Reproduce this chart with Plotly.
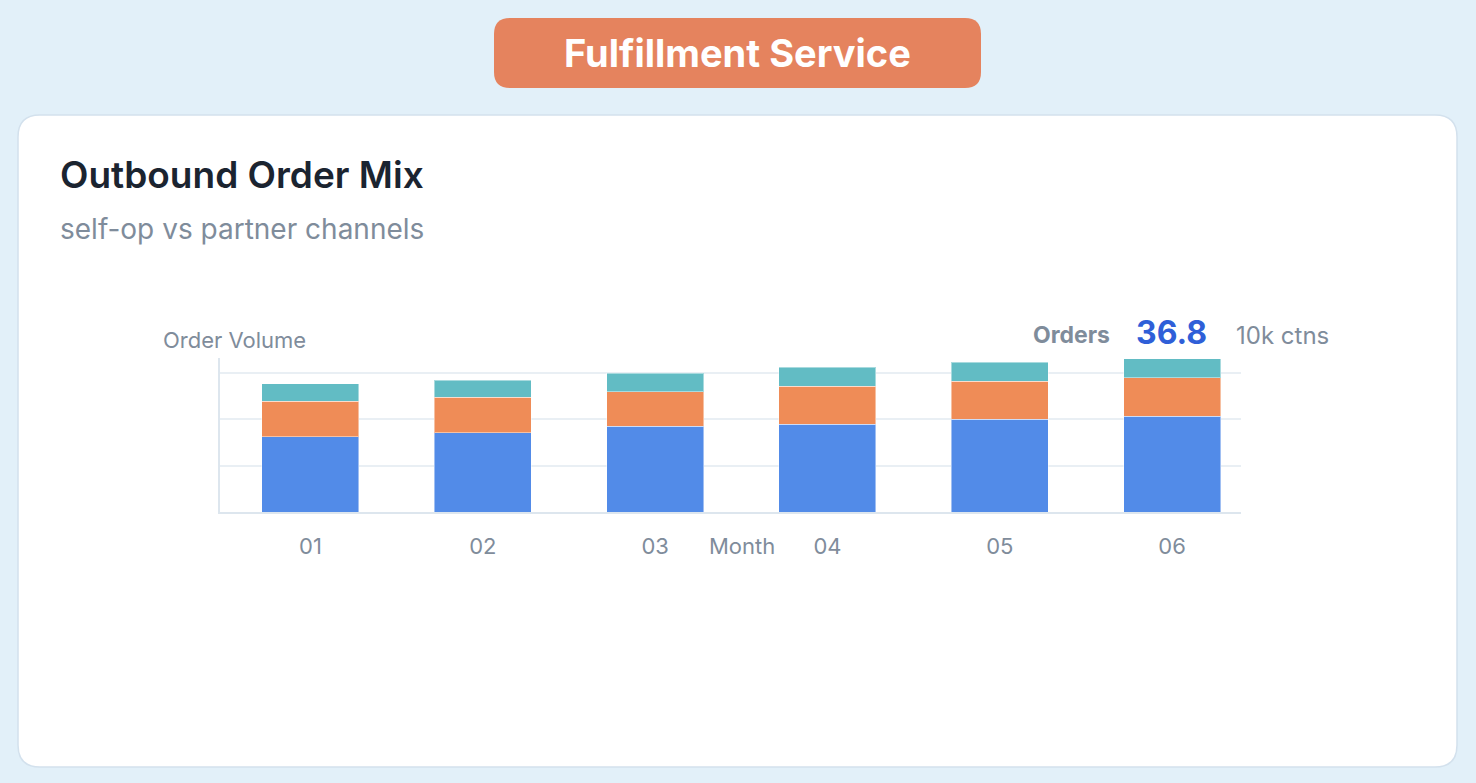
import plotly.graph_objects as go

W, H = 1476, 783

# data (10k ctns)
months = ["01", "02", "03", "04", "05", "06"]
self_op = [18.1, 18.95, 20.6, 21.1, 22.2, 23.0]
partner = [8.5, 8.6, 8.2, 9.1, 9.1, 9.2]
other = [4.1, 4.1, 4.5, 4.5, 4.6, 4.6]
total_last = 36.8

series_names = ["Self-op", "Partner", "Other"]
colors = ["#528BE8", "#EF8C57", "#62BCC4"]

FONT = "Inter, Open Sans, Liberation Sans, Arial, sans-serif"


def px(x):
    return x / W


def py(y):
    return 1 - y / H


def round_rect(x0, y0, x1, y1, r):
    # rounded rectangle path in paper coords (pixel inputs)
    pts = [
        ("M", x0 + r, y0), ("L", x1 - r, y0), ("Q", x1, y0, x1, y0 + r),
        ("L", x1, y1 - r), ("Q", x1, y1, x1 - r, y1),
        ("L", x0 + r, y1), ("Q", x0, y1, x0, y1 - r),
        ("L", x0, y0 + r), ("Q", x0, y0, x0 + r, y0),
    ]
    out = []
    for p in pts:
        if p[0] == "Q":
            out.append("Q%.5f,%.5f %.5f,%.5f" % (px(p[1]), py(p[2]), px(p[3]), py(p[4])))
        else:
            out.append("%s%.5f,%.5f" % (p[0], px(p[1]), py(p[2])))
    return " ".join(out) + " Z"


fig = go.Figure()
for name, vals, c in zip(series_names, [self_op, partner, other], colors):
    fig.add_trace(go.Bar(
        x=months, y=vals, name=name, width=0.563,
        marker=dict(color=c, line=dict(color="rgba(255,255,255,0.45)", width=1)),
        hoverinfo="skip",
    ))

shapes = [
    # card
    dict(type="path", xref="paper", yref="paper", layer="below",
         path=round_rect(18, 115, 1457, 767, 22),
         fillcolor="#FFFFFF", line=dict(color="#D3E1ED", width=1.5)),
    # header pill
    dict(type="path", xref="paper", yref="paper", layer="below",
         path=round_rect(494, 18, 981, 88, 16),
         fillcolor="#E5835E", line=dict(width=0)),
]

annotations = [
    dict(text="Fulfillment Service", x=px(737.5), y=py(53),
         font=dict(size=38, color="#FFFFFF", weight=700)),
    dict(text="Outbound Order Mix", x=px(58), y=py(174), xanchor="left",
         font=dict(size=37, color="#1B2430", weight=600)),
    dict(text="self-op vs partner channels", x=px(58), y=py(229), xanchor="left",
         font=dict(size=28, color="#7F8C9B")),
    dict(text="Order Volume", x=px(161), y=py(340), xanchor="left",
         font=dict(size=22, color="#7F8C9B")),
    dict(text="Orders", x=px(1112), y=py(335), xanchor="right",
         font=dict(size=23, color="#7F8C9B", weight=700)),
    dict(text="%.1f" % total_last, x=px(1171), y=py(332),
         font=dict(size=32, color="#2F5FD8", weight=700)),
    dict(text="10k ctns", x=px(1234), y=py(335), xanchor="left",
         font=dict(size=24, color="#7F8C9B")),
    dict(text="Month", x=px(741.5), y=py(546),
         font=dict(size=22, color="#7F8C9B")),
]
for a in annotations:
    a.setdefault("xanchor", "center")
    a.update(xref="paper", yref="paper", yanchor="middle", showarrow=False)

fig.update_layout(
    width=W, height=H, autosize=False,
    margin=dict(l=0, r=0, t=0, b=0),
    paper_bgcolor="#E2F0F9", plot_bgcolor="rgba(0,0,0,0)",
    barmode="stack", showlegend=False,
    font=dict(family=FONT, color="#7F8C9B"),
    shapes=shapes, annotations=annotations,
    xaxis=dict(
        domain=[px(220), px(1241)], range=[-0.525, 5.40],
        showgrid=False, zeroline=False, showline=True,
        linecolor="#DDE6EE", linewidth=2,
        ticks="", ticklabelstandoff=14,
        tickfont=dict(size=22, color="#7F8C9B"), fixedrange=True,
    ),
    yaxis=dict(
        domain=[py(512), py(357.7)], range=[0, 37.0],
        dtick=11.1, showticklabels=False, ticks="",
        showgrid=True, gridcolor="#E9EFF4", gridwidth=1.5,
        zeroline=False, showline=True, linecolor="#DDE6EE", linewidth=2,
        fixedrange=True,
    ),
)

fig.write_html("out.html", config={"displayModeBar": False},
               post_script="document.body.style.margin='0';")
